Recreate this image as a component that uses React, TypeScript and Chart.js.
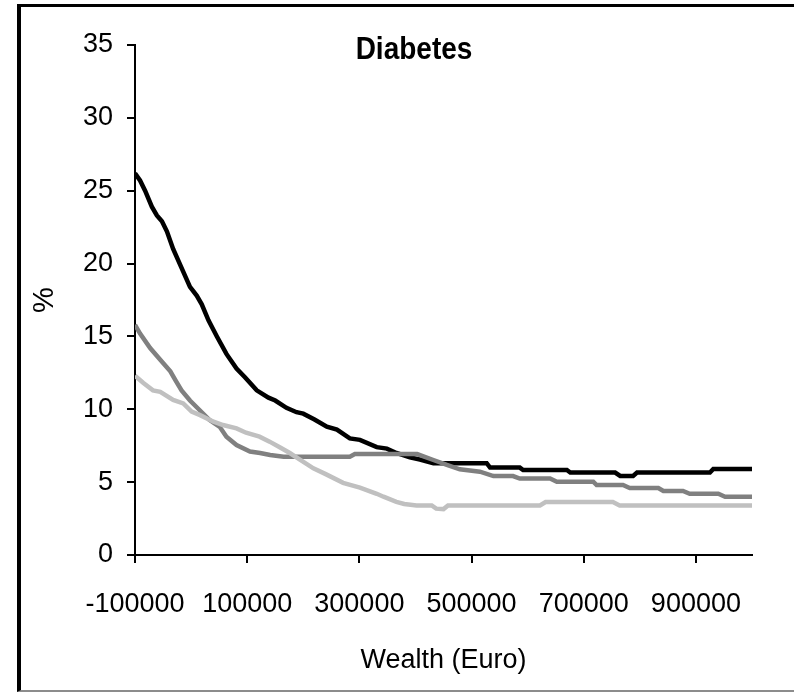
import React, { useEffect, useRef } from "react";
import { Chart, registerables } from "chart.js";

Chart.register(...registerables);

const TITLE = "Diabetes";
const X_TITLE = "Wealth (Euro)";
const Y_TITLE = "%";
const X_TICKS = [-100000, 100000, 300000, 500000, 700000, 900000];
const Y_TICKS = [0, 5, 10, 15, 20, 25, 30, 35];

const blackX = [-100000, -91000, -82000, -70000, -61000, -52000, -43000, -32000, -17000, -2000, 10000, 19000, 31000, 46000, 63000, 81000, 96000, 117000, 138000, 150000, 170000, 188000, 200000, 220000, 242000, 260000, 283000, 301000, 331000, 349000, 366000, 390000, 408000, 432000, 527000, 533000, 586000, 592000, 670000, 676000, 756000, 765000, 788000, 795000, 925000, 931000, 1000000];
const blackY = [26.2, 25.7, 25.0, 23.9, 23.3, 22.9, 22.2, 21.0, 19.7, 18.4, 17.8, 17.2, 16.1, 15.0, 13.8, 12.8, 12.2, 11.3, 10.8, 10.6, 10.1, 9.8, 9.7, 9.3, 8.8, 8.6, 8.0, 7.9, 7.4, 7.3, 7.0, 6.7, 6.55, 6.3, 6.3, 6.0, 6.0, 5.83, 5.83, 5.66, 5.66, 5.43, 5.43, 5.66, 5.66, 5.9, 5.9];

const darkX = [-100000, -91000, -73000, -55000, -37000, -28000, -17000, -2000, 15000, 33000, 51000, 63000, 81000, 105000, 123000, 141000, 165000, 283000, 292000, 403000, 432000, 456000, 479000, 515000, 539000, 574000, 586000, 640000, 652000, 717000, 723000, 770000, 782000, 833000, 842000, 877000, 889000, 940000, 952000, 1000000];
const darkY = [15.8, 15.2, 14.2, 13.4, 12.6, 12.0, 11.3, 10.6, 9.95, 9.26, 8.8, 8.12, 7.55, 7.1, 7.0, 6.86, 6.75, 6.75, 6.93, 6.93, 6.52, 6.18, 5.88, 5.72, 5.42, 5.42, 5.25, 5.25, 5.03, 5.03, 4.8, 4.8, 4.6, 4.6, 4.39, 4.39, 4.2, 4.2, 4.0, 4.0];

const lightX = [-100000, -85000, -68000, -55000, -32000, -14000, 1000, 16000, 40000, 57000, 81000, 98000, 122000, 140000, 158000, 176000, 194000, 218000, 240000, 271000, 301000, 331000, 343000, 366000, 380000, 402000, 429000, 437000, 450000, 458000, 622000, 632000, 752000, 764000, 1000000];
const lightY = [12.3, 11.8, 11.3, 11.2, 10.64, 10.4, 9.84, 9.6, 9.15, 8.92, 8.69, 8.39, 8.12, 7.78, 7.39, 7.0, 6.55, 5.95, 5.55, 4.95, 4.62, 4.2, 4.0, 3.65, 3.5, 3.4, 3.4, 3.18, 3.15, 3.4, 3.4, 3.63, 3.63, 3.4, 3.4];

const FONT_FAMILY = "'Liberation Sans', Arial, Helvetica, sans-serif";
const TICK_SIZE = 27;

const toPoints = (xs: number[], ys: number[]) => xs.map((x, i) => ({ x, y: ys[i] }));

const titlePlugin = {
  id: "diabTitle",
  afterDraw(chart: any) {
    const ctx = chart.ctx;
    ctx.save();
    ctx.font = `bold 28px ${FONT_FAMILY}`;
    ctx.fillStyle = "#000";
    ctx.textAlign = "center";
    ctx.textBaseline = "middle";
    ctx.translate(414, 51);
    ctx.scale(1, 1.1);
    ctx.fillText(TITLE, 0, 0);
    ctx.restore();
  },
};

export default function App() {
  const ref = useRef<HTMLCanvasElement | null>(null);

  useEffect(() => {
    if (!ref.current) return;
    const common = { pointRadius: 0, borderWidth: 4.5, tension: 0, fill: false };
    const chart = new Chart(ref.current, {
      type: "line",
      data: {
        datasets: [
          { label: "Series 1", data: toPoints(lightX, lightY), borderColor: "#c0c0c0", ...common },
          { label: "Series 2", data: toPoints(darkX, darkY), borderColor: "#808080", ...common },
          { label: "Series 3", data: toPoints(blackX, blackY), borderColor: "#000000", ...common },
        ],
      },
      options: {
        animation: false,
        responsive: false,
        events: [],
        layout: { padding: { top: 45, right: 42, bottom: 10, left: 20 } },
        plugins: { legend: { display: false }, tooltip: { enabled: false }, title: { display: false } },
        scales: {
          x: {
            type: "linear",
            min: -100000,
            max: 1000000,
            afterBuildTicks: (scale: any) => {
              scale.ticks = X_TICKS.map((v) => ({ value: v }));
            },
            afterFit: (scale: any) => {
              scale.height = 127;
            },
            ticks: {
              autoSkip: false,
              maxRotation: 0,
              minRotation: 0,
              padding: 25,
              color: "#000",
              font: { family: FONT_FAMILY, size: TICK_SIZE },
              callback: (v: any) => String(v),
            },
            grid: { drawOnChartArea: false, drawTicks: true, tickLength: 8, color: "#000", lineWidth: 2 },
            border: { display: true, color: "#000", width: 2 },
            title: { display: true, text: X_TITLE, color: "#000", font: { family: FONT_FAMILY, size: TICK_SIZE }, padding: { top: 0, bottom: 5 } },
          },
          y: {
            type: "linear",
            min: 0,
            max: 35,
            afterBuildTicks: (scale: any) => {
              scale.ticks = Y_TICKS.map((v) => ({ value: v }));
            },
            afterFit: (scale: any) => {
              scale.width = 115;
            },
            ticks: {
              padding: 14,
              color: "#000",
              font: { family: FONT_FAMILY, size: TICK_SIZE },
              callback: (v: any) => String(v),
            },
            grid: { drawOnChartArea: false, drawTicks: true, tickLength: 8, color: "#000", lineWidth: 2 },
            border: { display: true, color: "#000", width: 2 },
            title: { display: true, text: Y_TITLE, color: "#000", font: { family: FONT_FAMILY, size: 29 }, padding: { top: 8, bottom: 0 } },
          },
        },
      },
      plugins: [titlePlugin],
    });
    return () => chart.destroy();
  }, []);

  return (
    <div style={{ position: "fixed", left: 0, top: 0, width: 794, height: 692, background: "#fff", overflow: "hidden" }}>
      <div
        style={{
          position: "absolute",
          left: 17,
          top: 4,
          width: 820,
          height: 683,
          borderLeft: "4px solid #000",
          borderTop: "3px solid #000",
          borderBottom: "2px solid #8c8c8c",
        }}
      />
      <canvas ref={ref} width={794} height={692} style={{ position: "absolute", left: 0, top: 0, width: 794, height: 692 }} />
    </div>
  );
}
